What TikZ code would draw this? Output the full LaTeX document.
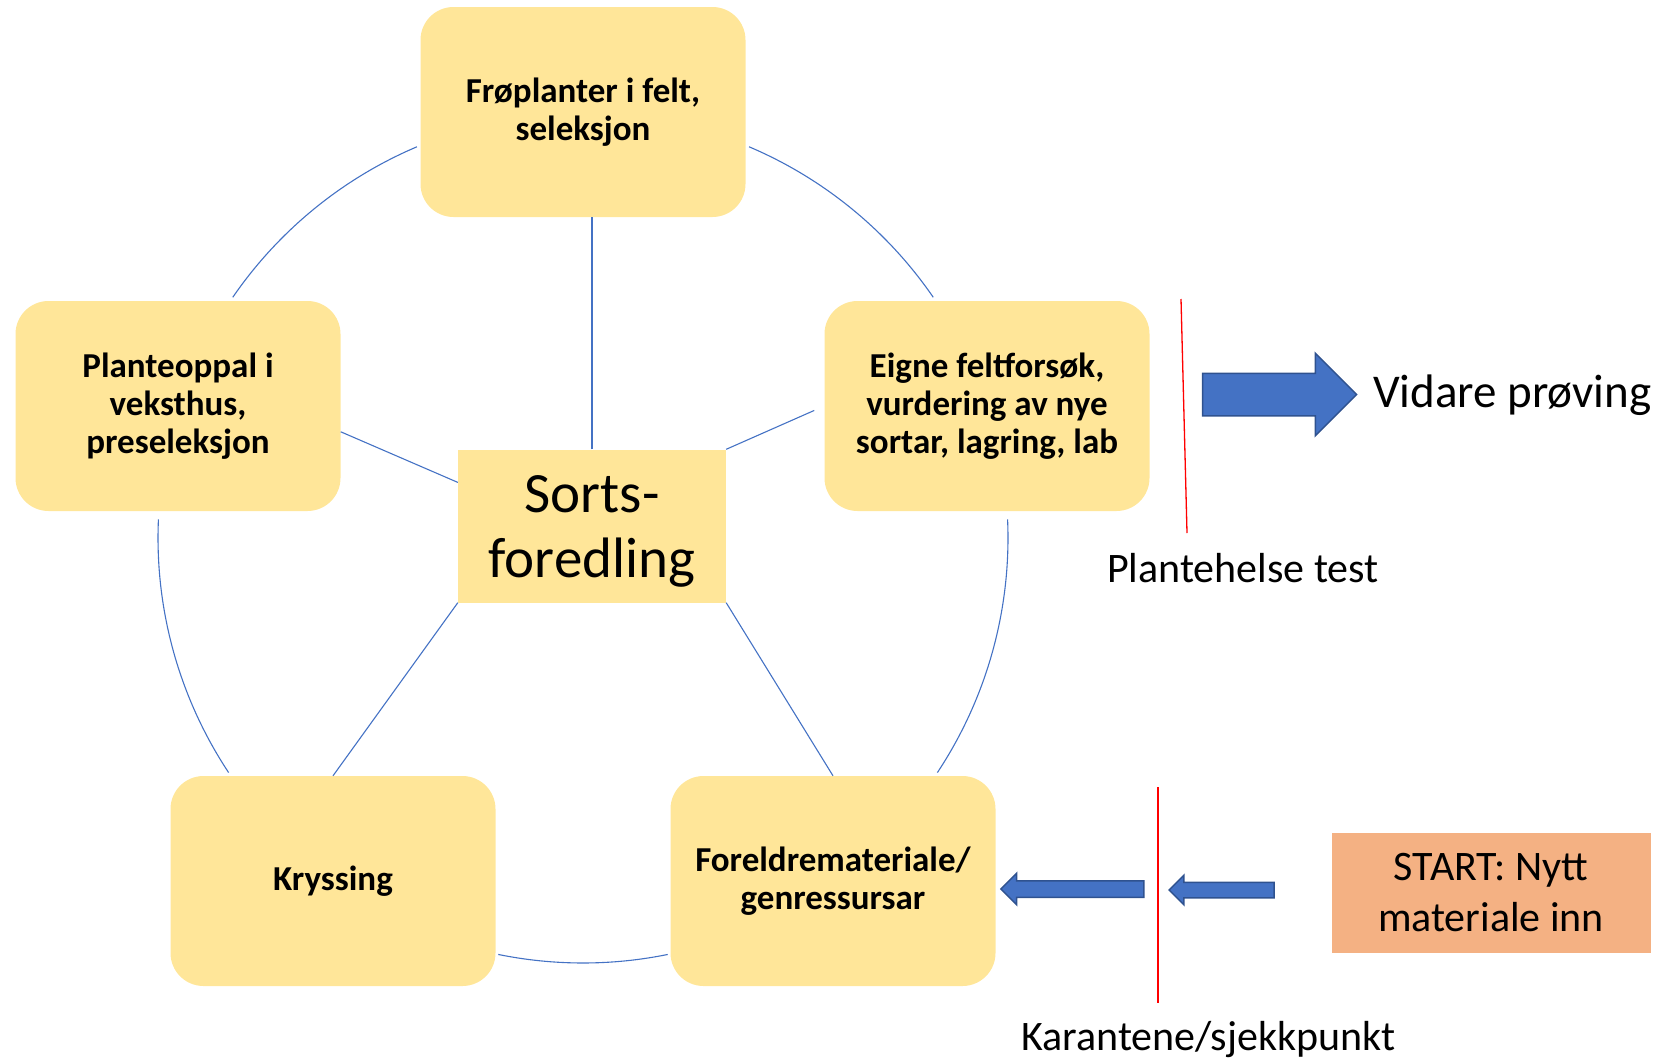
\documentclass[tikz,border=0pt]{standalone}
\usepackage{fontspec}
\setmainfont{Carlito}
\usetikzlibrary{shapes.arrows}

\definecolor{stageyellow}{HTML}{FFE699}
\definecolor{startorange}{HTML}{F4B183}
\definecolor{cycleblue}{HTML}{4472C4}
\definecolor{arrowedge}{HTML}{2F528F}

\begin{document}
\begin{tikzpicture}[x=1pt,y=-1pt]
  \tikzset{stage/.style={rectangle,rounded corners=33pt,fill=stageyellow,minimum width=325pt,minimum height=210pt,inner sep=0pt,align=center,font=\fontsize{35}{38}\selectfont\bfseries},
    link/.style={draw=cycleblue,line width=1.1pt},
    gate/.style={draw=red,line width=1.3pt},
    note/.style={anchor=base west,inner sep=0pt,font=\fontsize{42}{50}\selectfont},
    blockarrow/.style={single arrow,fill=cycleblue,draw=arrowedge,line width=1.5pt,inner xsep=0pt,single arrow tip angle=90}}
  \useasboundingbox (0,0) rectangle (1667,1060);
  \coordinate (o) at (583, 538);
  \node[stage] (froe) at (583, 112) {Frøplanter i felt,\\seleksjon};
  \node[stage] (plante) at (178, 406) {Planteoppal i\\veksthus,\\preseleksjon};
  \node[stage] (eigne) at (987, 406) {Eigne feltforsøk,\\vurdering av nye\\sortar, lagring, lab};
  \node[stage] (kryss) at (333, 881) {Kryssing};
  \node[stage] (foreldre) at (833, 881) {Foreldremateriale/\\genressursar};
  \node[rectangle,fill=stageyellow,minimum width=268pt,minimum height=153pt,inner sep=0pt,align=center,text depth=0pt,font=\fontsize{57}{65}\selectfont] (sorts) at (592, 526) {Sorts-\\foredling};
  \node[rectangle,fill=startorange,minimum width=319pt,minimum height=120pt,inner sep=0pt,align=center,font=\fontsize{42}{51}\selectfont] (start) at (1491, 893) {START: Nytt\\materiale inn};
  \path[link] ([shift={(-113:425)}]o) arc (-113:-145.5:425);
  \path[link] ([shift={(-67:425)}]o) arc (-67:-34.5:425);
  \path[link] ([shift={(-2.5:425)}]o) arc (-2.5:33.5:425);
  \path[link] ([shift={(-177.5:425)}]o) arc (-177.5:-213.5:425);
  \path[link] ([shift={(-258.5:425)}]o) arc (-258.5:-281.5:425);
  \path[link] (sorts.north) -- (sorts.north |- froe.south);
  \path[link] (sorts.162) -- (plante.-9);
  \path[link,shorten >=11pt] (sorts.north east) -- (eigne.west);
  \path[link] (sorts.south west) -- (kryss.north);
  \path[link] (sorts.south east) -- (foreldre.north);
  \coordinate (test top) at (1181, 299);
  \coordinate (test bottom) at (1187, 533);
  \coordinate (check top) at (1158, 787);
  \coordinate (check bottom) at (1158, 1003);
  \path[gate] (test top) -- (test bottom);
  \path[gate] (check top) -- (check bottom);
  \node[blockarrow,minimum height=154pt,inner ysep=20.5pt,single arrow head extend=20pt] (out) at (1269, 394.5) {};
  \node[blockarrow,shape border rotate=180,minimum height=143pt,inner ysep=7.5pt,single arrow head extend=7.5pt] (inner) at (1076.5, 889) {};
  \node[blockarrow,shape border rotate=180,minimum height=105pt,inner ysep=7pt,single arrow head extend=7pt] (outer) at (1225.5, 890) {};
  \node[note,font=\fontsize{47}{56}\selectfont] (vidare) at (1373, 407) {Vidare prøving};
  \node[note] (helse) at (1107, 582) {Plantehelse test};
  \node[note] (karantene) at (1021, 1050) {Karantene/sjekkpunkt};
\end{tikzpicture}
\end{document}
